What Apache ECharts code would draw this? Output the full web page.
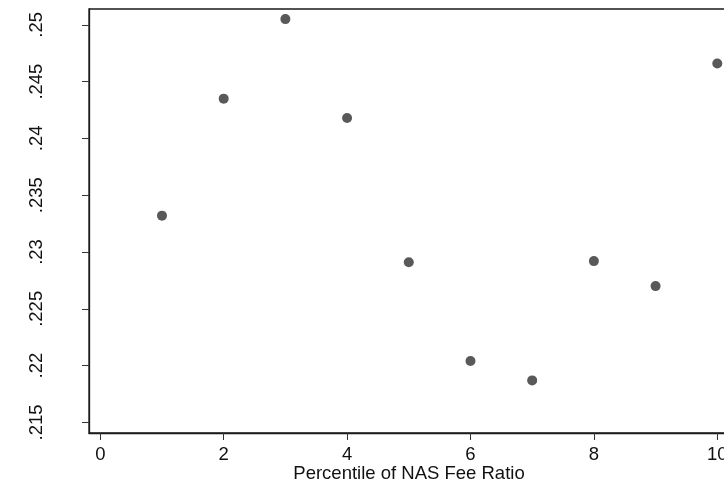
<!DOCTYPE html>
<html>
<head>
<meta charset="utf-8">
<script src="https://cdn.jsdelivr.net/npm/echarts@6/dist/echarts.min.js"></script>
<style>
	html, body {margin:0; padding:0; background:#fff;}
	#chart {width:724px; height:481px;}
</style>
</head>
<body>
<div id="chart"></div>
<script>
// percentile groups and mean values
var percentiles = [1, 2, 3, 4, 5, 6, 7, 8, 9, 10]
var values = [0.2332, 0.2435, 0.2505, 0.2418, 0.2291, 0.2204, 0.2187, 0.2292, 0.2270, 0.2466]
var xTicks = [0, 2, 4, 6, 8, 10]
var yTicks = [0.215, 0.22, 0.225, 0.23, 0.235, 0.24, 0.245, 0.25]

var font = 'Liberation Sans'

function renderChart() {
	var myChart = echarts.init(document.getElementById('chart'))
	var points = percentiles.map(function(p, i){ return [p, values[i]] })
	var option = {
		animation: false,
		backgroundColor: '#fff',
		grid: {
			left: 89,
			top: 9,
			bottom: 48,
			right: -5,
			outerBoundsMode: 'none',
			containLabel: false,
			show: true,
			borderColor: '#1a1a1a',
			borderWidth: 1.3
		},
		xAxis: {
			type: 'value',
			min: -0.183,
			max: 10.19,
			name: 'Percentile of NAS Fee Ratio',
			nameLocation: 'middle',
			nameGap: 31,
			nameMoveOverlap: false,
			nameTextStyle: {color: '#111', fontFamily: font, fontSize: 18.5},
			splitLine: {show: false},
			axisLine: {show: true, onZero: false, lineStyle: {color: '#1a1a1a', width: 1.3}},
			axisTick: {show: true, length: 7, customValues: xTicks, lineStyle: {color: '#333', width: 1}},
			axisLabel: {
				customValues: xTicks,
				margin: 12,
				color: '#111',
				fontFamily: font,
				fontSize: 18.5
			}
		},
		yAxis: {
			type: 'value',
			min: 0.21407,
			max: 0.25139,
			splitLine: {show: false},
			axisLine: {show: true, onZero: false, lineStyle: {color: '#1a1a1a', width: 1.3}},
			axisTick: {show: true, length: 7, customValues: yTicks, lineStyle: {color: '#333', width: 1}},
			axisLabel: {
				customValues: yTicks,
				rotate: 90,
				margin: 43,
				color: '#111',
				fontFamily: font,
				fontSize: 18.5,
				formatter: function(v){ return String(+v.toFixed(3)).replace(/^0/, '') }
			}
		},
		series: [
			{
				type: 'scatter',
				symbol: 'circle',
				symbolSize: 10,
				itemStyle: {color: '#595959', opacity: 1},
				data: points
			}
		]
	}
	myChart.setOption(option)
}

renderChart()
</script>
</body>
</html>
